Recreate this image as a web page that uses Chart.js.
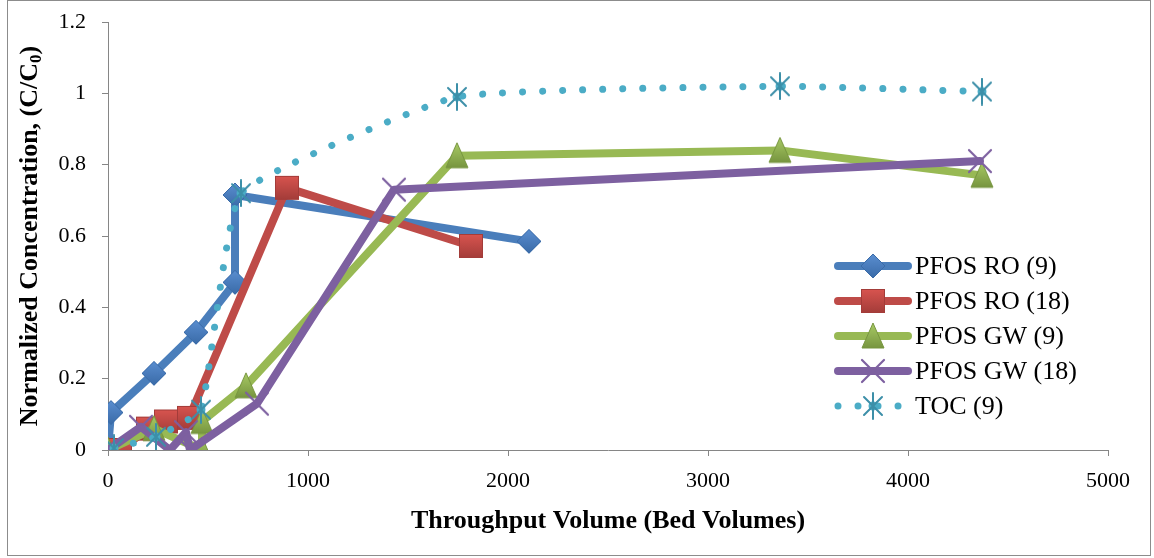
<!DOCTYPE html>
<html>
<head>
<meta charset="utf-8">
<script src="https://cdn.jsdelivr.net/npm/chart.js@4.4.1/dist/chart.umd.min.js"></script>
<style>
  html, body { margin: 0; padding: 0; background: #fff; }
  #wrap { position: relative; width: 1154px; height: 558px; }
  #frame { position: absolute; left: 7px; top: 0; width: 1144px; height: 556px; border: 1px solid #8c8c8c; box-sizing: border-box; pointer-events: none; }
</style>
</head>
<body>
<div id="wrap">
  <canvas id="chart" width="1154" height="558"></canvas>
  <div id="frame"></div>
</div>
<script>
// tick labels
var xTicks = [0, 1000, 2000, 3000, 4000, 5000];
var yTicks = [0, 0.2, 0.4, 0.6, 0.8, 1, 1.2];

var seriesNames = ['PFOS RO (9)', 'PFOS RO (18)', 'PFOS GW (9)', 'PFOS GW (18)', 'TOC (9)'];

// bed volumes / C/C0
var roX9 = [0, 15, 230, 440, 635, 635, 2105];
var roY9 = [0, 0.105, 0.215, 0.33, 0.47, 0.715, 0.585];

var roX18 = [0, 60, 200, 290, 405, 895, 1815];
var roY18 = [0, 0, 0.06, 0.08, 0.09, 0.735, 0.572];

var gwX9 = [0, 230, 470, 470, 690, 1745, 3360, 4370];
var gwY9 = [0, 0.06, 0, 0.08, 0.18, 0.825, 0.84, 0.77];

var gwX18 = [0, 165, 310, 390, 410, 745, 1430, 4360];
var gwY18 = [0, 0.065, 0, 0.05, 0, 0.13, 0.73, 0.81];

var tocX9 = [30, 240, 465, 665, 1745, 3360, 4370];
var tocY9 = [0.005, 0.037, 0.113, 0.72, 0.99, 1.02, 1.005];

function pts(xs, ys) {
    return xs.map(function(x, i) { return { x: x, y: ys[i] }; });
}

function marker(kind, fill, dark) {
    var c = document.createElement('canvas');
    c.width = 28; c.height = 28;
    var g = c.getContext('2d');
    var grad = g.createLinearGradient(0, 2, 0, 26);
    grad.addColorStop(0, fill);
    grad.addColorStop(1, dark);
    g.lineJoin = 'miter';
    if (kind === 'diamond') {
        g.beginPath();
        g.moveTo(14, 2); g.lineTo(26, 14); g.lineTo(14, 26); g.lineTo(2, 14); g.closePath();
        g.fillStyle = grad; g.fill();
        g.strokeStyle = dark; g.lineWidth = 1; g.stroke();
    } else if (kind === 'square') {
        g.fillStyle = grad; g.fillRect(2, 2, 24, 24);
        g.strokeStyle = dark; g.lineWidth = 1; g.strokeRect(2.5, 2.5, 23, 23);
    } else if (kind === 'triangle') {
        g.beginPath();
        g.moveTo(14, 1); g.lineTo(25, 26); g.lineTo(3, 26); g.closePath();
        g.fillStyle = grad; g.fill();
        g.strokeStyle = dark; g.lineWidth = 1; g.stroke();
    } else if (kind === 'x') {
        g.strokeStyle = fill; g.lineWidth = 2.2; g.lineCap = 'round';
        g.beginPath();
        g.moveTo(3, 3); g.lineTo(25, 25);
        g.moveTo(25, 3); g.lineTo(3, 25);
        g.stroke();
    } else if (kind === 'star') {
        g.fillStyle = fill;
        g.beginPath(); g.arc(14, 14, 4.5, 0, Math.PI * 2); g.fill();
        g.strokeStyle = dark; g.lineWidth = 2; g.lineCap = 'round';
        g.beginPath();
        g.moveTo(14, 1); g.lineTo(14, 27);
        g.moveTo(5, 5); g.lineTo(23, 23);
        g.moveTo(23, 5); g.lineTo(5, 23);
        g.stroke();
    }
    return c;
}

var colors = ['#4A7EBB', '#BE4B48', '#98B954', '#7D60A0', '#4BACC6'];
var markers = [
    marker('diamond', '#5A8ED0', '#3A6BA8'),
    marker('square', '#D8544F', '#A33C39'),
    marker('triangle', '#A6C863', '#77953F'),
    marker('x', '#7D60A0', '#5C4776'),
    marker('star', '#4BACC6', '#3C8FA8')
];
var xsAll = [roX9, roX18, gwX9, gwX18, tocX9];
var ysAll = [roY9, roY18, gwY9, gwY18, tocY9];

var datasets = seriesNames.map(function(name, i) {
    var toc = i === 4;
    return {
        label: name,
        data: pts(xsAll[i], ysAll[i]),
        borderColor: colors[i],
        backgroundColor: colors[i],
        borderWidth: toc ? 7 : 8,
        borderDash: toc ? [0.01, 20] : [],
        borderCapStyle: 'round',
        borderJoinStyle: 'round',
        tension: toc ? 0.12 : 0,
        pointStyle: markers[i],
        pointRadius: 10,
        order: 4 - i
    };
});

var serif = "'Liberation Serif', 'Times New Roman', serif";

var extras = {
    id: 'extras',
    afterDraw: function(chart) {
        var ctx = chart.ctx;
        ctx.save();
        // y axis title with subscript
        ctx.translate(30, 236);
        ctx.rotate(-Math.PI / 2);
        ctx.fillStyle = '#000';
        ctx.textBaseline = 'middle';
        var big = 'bold 26px ' + serif, small = 'bold 17px ' + serif;
        var a = 'Normalized Concentration, (C/C', b = '0', c = ')';
        ctx.font = big; var wa = ctx.measureText(a).width, wc = ctx.measureText(c).width;
        ctx.font = small; var wb = ctx.measureText(b).width;
        var x0 = -(wa + wb + wc) / 2;
        ctx.font = big; ctx.fillText(a, x0, 0);
        ctx.font = small; ctx.fillText(b, x0 + wa, 7);
        ctx.font = big; ctx.fillText(c, x0 + wa + wb, 0);
        ctx.restore();

        // legend: line sample + marker + text
        ctx.save();
        chart.data.datasets.forEach(function(ds, i) {
            var y = 266 + i * 35;
            ctx.strokeStyle = ds.borderColor;
            ctx.lineWidth = ds.borderWidth;
            ctx.lineCap = 'round';
            ctx.setLineDash(ds.borderDash);
            ctx.beginPath();
            ctx.moveTo(838, y); ctx.lineTo(908, y);
            ctx.stroke();
            ctx.setLineDash([]);
            var m = ds.pointStyle;
            ctx.drawImage(m, 873 - m.width / 2, y - m.height / 2);
            ctx.fillStyle = '#000';
            ctx.font = '26px ' + serif;
            ctx.textBaseline = 'middle';
            ctx.fillText(ds.label, 915, y + 1);
        });
        ctx.restore();
    }
};

new Chart(document.getElementById('chart'), {
    type: 'line',
    data: { datasets: datasets },
    options: {
        responsive: false,
        animation: false,
        layout: { padding: { left: 0, right: 46, top: 22, bottom: 0 } },
        plugins: { legend: { display: false }, tooltip: { enabled: false } },
        scales: {
            x: {
                type: 'linear',
                min: 0, max: 5000,
                afterBuildTicks: function(s) { s.ticks = xTicks.map(function(v) { return { value: v }; }); },
                afterFit: function(s) { s.height = 108; s.paddingLeft = 0; s.paddingRight = 0; },
                grid: { drawOnChartArea: false, tickLength: 6, color: '#868686' },
                border: { color: '#868686' },
                ticks: { color: '#000', padding: 12, maxRotation: 0, font: { family: serif, size: 22 },
                    callback: function(v) { return String(v); } },
                title: { display: true, text: 'Throughput Volume (Bed Volumes)', color: '#000', padding: { top: 0, bottom: 21 }, font: { family: serif, size: 26, weight: 'bold' } }
            },
            y: {
                min: 0, max: 1.2,
                afterBuildTicks: function(s) { s.ticks = yTicks.map(function(v) { return { value: v }; }); },
                afterFit: function(s) { s.width = 108; s.paddingTop = 0; s.paddingBottom = 0; },
                grid: { drawOnChartArea: false, tickLength: 6, color: '#868686' },
                border: { color: '#868686' },
                ticks: { color: '#000', padding: 16, font: { family: serif, size: 22 },
                    callback: function(v) { return String(v); } }
            }
        }
    },
    plugins: [extras]
});
</script>
</body>
</html>
